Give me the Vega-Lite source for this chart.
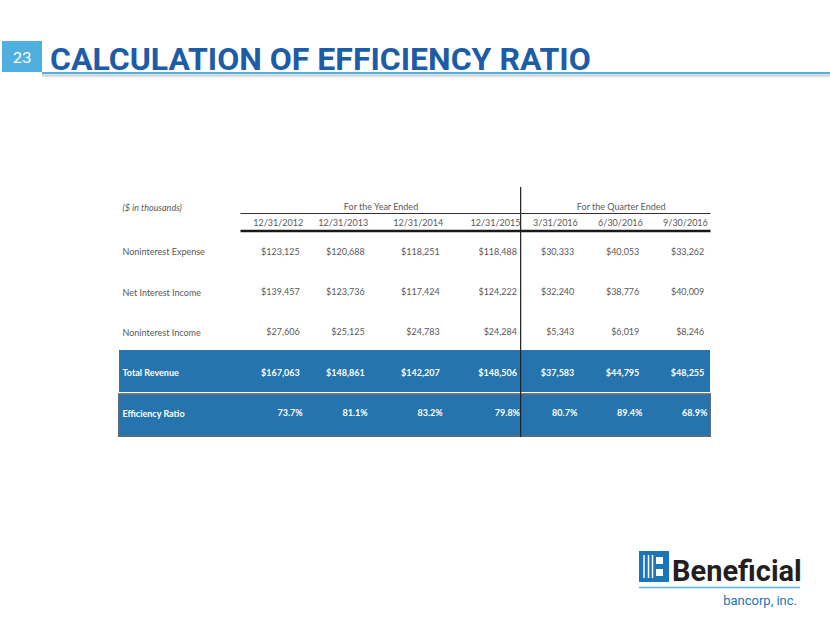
{
  "$schema": "https://vega.github.io/schema/vega-lite/v6.json",
  "width": 591,
  "height": 250,
  "autosize": {"type": "none"},
  "padding": {"left": 119, "top": 187, "right": 120, "bottom": 186},
  "background": "white",
  "config": {"view": {"stroke": null}, "font": "Lato"},
  "datasets": {
    "table": [
      {"item": "Noninterest Expense", "period": "2012-12-31", "value": 123125},
      {"item": "Noninterest Expense", "period": "2013-12-31", "value": 120688},
      {"item": "Noninterest Expense", "period": "2014-12-31", "value": 118251},
      {"item": "Noninterest Expense", "period": "2015-12-31", "value": 118488},
      {"item": "Noninterest Expense", "period": "2016-03-31", "value": 30333},
      {"item": "Noninterest Expense", "period": "2016-06-30", "value": 40053},
      {"item": "Noninterest Expense", "period": "2016-09-30", "value": 33262},
      {"item": "Net Interest Income", "period": "2012-12-31", "value": 139457},
      {"item": "Net Interest Income", "period": "2013-12-31", "value": 123736},
      {"item": "Net Interest Income", "period": "2014-12-31", "value": 117424},
      {"item": "Net Interest Income", "period": "2015-12-31", "value": 124222},
      {"item": "Net Interest Income", "period": "2016-03-31", "value": 32240},
      {"item": "Net Interest Income", "period": "2016-06-30", "value": 38776},
      {"item": "Net Interest Income", "period": "2016-09-30", "value": 40009},
      {"item": "Noninterest Income", "period": "2012-12-31", "value": 27606},
      {"item": "Noninterest Income", "period": "2013-12-31", "value": 25125},
      {"item": "Noninterest Income", "period": "2014-12-31", "value": 24783},
      {"item": "Noninterest Income", "period": "2015-12-31", "value": 24284},
      {"item": "Noninterest Income", "period": "2016-03-31", "value": 5343},
      {"item": "Noninterest Income", "period": "2016-06-30", "value": 6019},
      {"item": "Noninterest Income", "period": "2016-09-30", "value": 8246},
      {"item": "Total Revenue", "period": "2012-12-31", "value": 167063},
      {"item": "Total Revenue", "period": "2013-12-31", "value": 148861},
      {"item": "Total Revenue", "period": "2014-12-31", "value": 142207},
      {"item": "Total Revenue", "period": "2015-12-31", "value": 148506},
      {"item": "Total Revenue", "period": "2016-03-31", "value": 37583},
      {"item": "Total Revenue", "period": "2016-06-30", "value": 44795},
      {"item": "Total Revenue", "period": "2016-09-30", "value": 48255},
      {"item": "Efficiency Ratio", "period": "2012-12-31", "value": 0.737},
      {"item": "Efficiency Ratio", "period": "2013-12-31", "value": 0.811},
      {"item": "Efficiency Ratio", "period": "2014-12-31", "value": 0.832},
      {"item": "Efficiency Ratio", "period": "2015-12-31", "value": 0.798},
      {"item": "Efficiency Ratio", "period": "2016-03-31", "value": 0.807},
      {"item": "Efficiency Ratio", "period": "2016-06-30", "value": 0.894},
      {"item": "Efficiency Ratio", "period": "2016-09-30", "value": 0.689}
    ],
    "groups": [
      {"group": "For the Year Ended"},
      {"group": "For the Quarter Ended"}
    ]
  },
  "data": {"values": [{}]},
  "resolve": {"scale": {"x": "independent", "y": "independent"}},
  "layer": [
    {
      "data": {"name": "table"},
      "transform": [{"filter": "datum.item === 'Total Revenue' || datum.item === 'Efficiency Ratio'"}],
      "mark": {"type": "rect", "fill": "#2574AE", "strokeWidth": 1.5},
      "encoding": {
        "y": {"field": "item", "type": "nominal", "axis": null,
              "scale": {"type": "band", "domain": ["Total Revenue", "Efficiency Ratio"], "range": [163, 249], "paddingInner": 0.067, "paddingOuter": 0}},
        "stroke": {"condition": {"test": "datum.item === 'Efficiency Ratio'", "value": "#5d6b78"}, "value": "transparent"}
      }
    },
    {
      "data": {"name": "table", "format": {"parse": {"period": "date"}}},
      "layer": [
        {
          "transform": [{"filter": "datum.item !== 'Total Revenue' && datum.item !== 'Efficiency Ratio'"}],
          "mark": {"type": "text", "align": "right", "baseline": "middle", "dx": -3, "font": "Lato", "fontSize": 9, "color": "#595959"},
          "encoding": {
            "x": {"field": "period", "type": "quantitative",
                  "scale": {"type": "linear", "nice": false, "zero": false,
                            "domain": [1325376000000, 1356912000000, 1388448000000, 1419984000000, 1451520000000, 1459382400000, 1467244800000, 1475193600000, 1475280000000],
                            "range": [121, 183.7, 248.7, 323.7, 401, 458.3, 523.3, 588.3, 591]},
                  "axis": {"orient": "top", "offset": -43.5, "title": null,
                           "values": [1356912000000, 1388448000000, 1419984000000, 1451520000000, 1459382400000, 1467244800000, 1475193600000],
                           "labelExpr": "utcFormat(datum.value, '%-m/%-d/%Y')", "labelAlign": "right", "labelBaseline": "bottom", "labelPadding": 3,
                           "labelAngle": 0, "ticks": false, "tickSize": 0, "grid": false, "domain": true,
                           "domainColor": "#1a1a1a", "domainWidth": 2.5, "labelFont": "Lato", "labelFontSize": 9,
                           "labelColor": "#595959", "labelOverlap": false, "labelFlush": false, "labelBound": false, "zindex": 1}},
            "y": {"field": "item", "type": "nominal",
                  "scale": {"type": "point", "domain": ["Noninterest Expense", "Net Interest Income", "Noninterest Income", "Total Revenue", "Efficiency Ratio"], "range": [64.8, 226], "padding": 0},
                  "axis": {"orient": "left", "title": "($ in thousands)", "titleAngle": 0, "titleX": 3, "titleY": 20,
                           "titleAlign": "left", "titleBaseline": "middle", "titleFont": "Lato", "titleFontSize": 9,
                           "titleFontStyle": "italic", "titleFontWeight": "normal", "titleColor": "#595959",
                           "labelAlign": "left", "labelBaseline": "middle", "labelPadding": -3, "ticks": false, "tickSize": 0,
                           "domain": false, "grid": false, "labelFont": "Lato", "labelFontSize": 9, "labelLimit": 0,
                           "labelColor": {"condition": {"test": "datum.value === 'Total Revenue' || datum.value === 'Efficiency Ratio'", "value": "white"}, "value": "#595959"},
                           "labelFontWeight": {"condition": {"test": "datum.value === 'Total Revenue' || datum.value === 'Efficiency Ratio'", "value": "bold"}, "value": "normal"},
                           "zindex": 2}},
            "text": {"field": "value", "type": "quantitative", "format": "$,.0f"}
          }
        },
        {
          "transform": [{"filter": "datum.item === 'Total Revenue'"}],
          "mark": {"type": "text", "align": "right", "baseline": "middle", "dx": -3, "font": "Lato", "fontSize": 9, "fontWeight": "bold", "color": "white"},
          "encoding": {
            "x": {"field": "period", "type": "quantitative"},
            "y": {"field": "item", "type": "nominal"},
            "text": {"field": "value", "type": "quantitative", "format": "$,.0f"}
          }
        },
        {
          "transform": [{"filter": "datum.item === 'Efficiency Ratio'"}],
          "mark": {"type": "text", "align": "right", "baseline": "middle", "font": "Lato", "fontSize": 9, "fontWeight": "bold", "color": "white"},
          "encoding": {
            "x": {"field": "period", "type": "quantitative"},
            "y": {"field": "item", "type": "nominal"},
            "text": {"field": "value", "type": "quantitative", "format": ".1%"}
          }
        },
        {
          "data": {"values": [{}]},
          "mark": {"type": "rule", "color": "#222222", "strokeWidth": 1.2},
          "encoding": {
            "x": {"datum": 1451606400000, "type": "quantitative"}
          }
        }
      ]
    },
    {
      "data": {"name": "groups"},
      "mark": {"type": "text", "opacity": 0},
      "encoding": {
        "x": {"field": "group", "type": "nominal",
              "scale": {"type": "point", "domain": ["For the Year Ended", "For the Quarter Ended"], "range": [121, 591], "padding": 0.4784, "align": 0.6114},
              "axis": {"orient": "top", "offset": -26, "title": null, "ticks": false, "tickSize": 0, "grid": false,
                       "domain": true, "domainColor": "#333333", "domainWidth": 1, "labelAngle": 0,
                       "labelAlign": "center", "labelBaseline": "bottom", "labelPadding": 2, "labelFont": "Lato",
                       "labelFontSize": 9, "labelColor": "#595959", "zindex": 1}},
        "text": {"field": "group", "type": "nominal"}
      }
    },
    {
      "mark": {"type": "rect", "fill": "#4FB0E0"},
      "encoding": {"x": {"value": -117}, "x2": {"value": -77}, "y": {"value": -146}, "y2": {"value": -115}}
    },
    {
      "mark": {"type": "text", "text": "23", "align": "center", "baseline": "middle", "font": "Lato", "fontSize": 16, "color": "white"},
      "encoding": {"x": {"value": -97}, "y": {"value": -129}}
    },
    {
      "mark": {"type": "rule", "color": "#d4d4d4", "strokeWidth": 2.5},
      "encoding": {"x": {"value": -77}, "x2": {"value": 711}, "y": {"value": -111.5}}
    },
    {
      "mark": {"type": "rule", "color": "#4FB0E0", "strokeWidth": 2},
      "encoding": {"x": {"value": -77}, "x2": {"value": 711}, "y": {"value": -114}}
    },
    {
      "mark": {"type": "text", "text": "CALCULATION OF EFFICIENCY RATIO", "align": "left", "baseline": "alphabetic", "font": "Roboto", "fontSize": 32, "fontWeight": "bold", "color": "#1D5CA6"},
      "encoding": {"x": {"value": -69}, "y": {"value": -117}}
    },
    {
      "mark": {"type": "rect", "fill": "#1B75BB"},
      "encoding": {"x": {"value": 520}, "x2": {"value": 550}, "y": {"value": 364}, "y2": {"value": 395}}
    },
    {
      "mark": {"type": "rule", "color": "white", "strokeWidth": 1.5},
      "encoding": {"x": {"value": 525}, "y": {"value": 368}, "y2": {"value": 391}}
    },
    {
      "mark": {"type": "rule", "color": "white", "strokeWidth": 1.5},
      "encoding": {"x": {"value": 529.5}, "y": {"value": 368}, "y2": {"value": 391}}
    },
    {
      "mark": {"type": "rule", "color": "white", "strokeWidth": 1.5},
      "encoding": {"x": {"value": 533.5}, "y": {"value": 368}, "y2": {"value": 391}}
    },
    {
      "mark": {"type": "rect", "fill": "white"},
      "encoding": {"x": {"value": 537}, "x2": {"value": 544}, "y": {"value": 370}, "y2": {"value": 377}}
    },
    {
      "mark": {"type": "rect", "fill": "white"},
      "encoding": {"x": {"value": 537}, "x2": {"value": 544}, "y": {"value": 382}, "y2": {"value": 389}}
    },
    {
      "mark": {"type": "text", "text": "Beneficial", "align": "left", "baseline": "alphabetic", "font": "Roboto", "fontSize": 29, "fontWeight": "bold", "color": "#231F20"},
      "encoding": {"x": {"value": 553}, "y": {"value": 394}}
    },
    {
      "mark": {"type": "rule", "color": "#5BAFE3", "strokeWidth": 1.5},
      "encoding": {"x": {"value": 520}, "x2": {"value": 681}, "y": {"value": 400.5}}
    },
    {
      "mark": {"type": "text", "text": "bancorp, inc.", "align": "right", "baseline": "alphabetic", "font": "Roboto", "fontSize": 13, "color": "#1B75BB"},
      "encoding": {"x": {"value": 678}, "y": {"value": 418}}
    }
  ]
}
